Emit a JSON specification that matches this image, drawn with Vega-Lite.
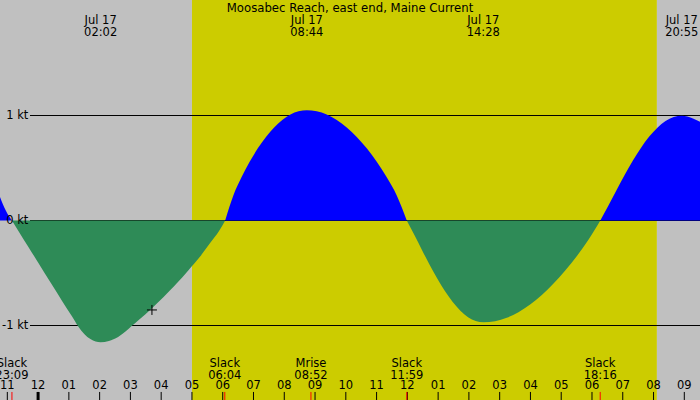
{
  "$schema": "https://vega.github.io/schema/vega-lite/v6.json",
  "width": 700,
  "height": 400,
  "autosize": "none",
  "padding": 0,
  "config": {
    "view": {"stroke": null},
    "font": "DejaVu Sans"
  },
  "datasets": {
    "curve": [
      {"seg": "F0", "dir": "flood", "h": -1.238, "v": 0.225},
      {"seg": "F0", "dir": "flood", "h": -1.05, "v": 0.095},
      {"seg": "F0", "dir": "flood", "h": -0.85, "v": 0},
      {"seg": "E1", "dir": "ebb", "h": -0.85, "v": 0},
      {"seg": "E1", "dir": "ebb", "h": -0.64, "v": -0.099},
      {"seg": "E1", "dir": "ebb", "h": -0.32, "v": -0.249},
      {"seg": "E1", "dir": "ebb", "h": 0.0, "v": -0.4},
      {"seg": "E1", "dir": "ebb", "h": 0.4, "v": -0.588},
      {"seg": "E1", "dir": "ebb", "h": 0.8, "v": -0.775},
      {"seg": "E1", "dir": "ebb", "h": 1.1, "v": -0.912},
      {"seg": "E1", "dir": "ebb", "h": 1.3, "v": -1.007},
      {"seg": "E1", "dir": "ebb", "h": 1.5, "v": -1.08},
      {"seg": "E1", "dir": "ebb", "h": 1.7, "v": -1.129},
      {"seg": "E1", "dir": "ebb", "h": 1.87, "v": -1.153},
      {"seg": "E1", "dir": "ebb", "h": 2.03, "v": -1.16},
      {"seg": "E1", "dir": "ebb", "h": 2.3, "v": -1.148},
      {"seg": "E1", "dir": "ebb", "h": 2.6, "v": -1.11},
      {"seg": "E1", "dir": "ebb", "h": 2.85, "v": -1.055},
      {"seg": "E1", "dir": "ebb", "h": 3.04, "v": -1.005},
      {"seg": "E1", "dir": "ebb", "h": 3.26, "v": -0.95},
      {"seg": "E1", "dir": "ebb", "h": 3.7, "v": -0.835},
      {"seg": "E1", "dir": "ebb", "h": 4.07, "v": -0.73},
      {"seg": "E1", "dir": "ebb", "h": 4.29, "v": -0.665},
      {"seg": "E1", "dir": "ebb", "h": 4.5, "v": -0.6},
      {"seg": "E1", "dir": "ebb", "h": 4.88, "v": -0.475},
      {"seg": "E1", "dir": "ebb", "h": 5.26, "v": -0.345},
      {"seg": "E1", "dir": "ebb", "h": 5.59, "v": -0.215},
      {"seg": "E1", "dir": "ebb", "h": 5.89, "v": -0.095},
      {"seg": "E1", "dir": "ebb", "h": 6.08, "v": 0},
      {"seg": "F1", "dir": "flood", "h": 6.08, "v": 0},
      {"seg": "F1", "dir": "flood", "h": 6.345, "v": 0.238},
      {"seg": "F1", "dir": "flood", "h": 6.61, "v": 0.411},
      {"seg": "F1", "dir": "flood", "h": 6.875, "v": 0.559},
      {"seg": "F1", "dir": "flood", "h": 7.14, "v": 0.687},
      {"seg": "F1", "dir": "flood", "h": 7.405, "v": 0.796},
      {"seg": "F1", "dir": "flood", "h": 7.67, "v": 0.886},
      {"seg": "F1", "dir": "flood", "h": 7.935, "v": 0.958},
      {"seg": "F1", "dir": "flood", "h": 8.2, "v": 1.009},
      {"seg": "F1", "dir": "flood", "h": 8.465, "v": 1.04},
      {"seg": "F1", "dir": "flood", "h": 8.73, "v": 1.05},
      {"seg": "F1", "dir": "flood", "h": 9.055, "v": 1.04},
      {"seg": "F1", "dir": "flood", "h": 9.38, "v": 1.009},
      {"seg": "F1", "dir": "flood", "h": 9.705, "v": 0.958},
      {"seg": "F1", "dir": "flood", "h": 10.03, "v": 0.886},
      {"seg": "F1", "dir": "flood", "h": 10.355, "v": 0.796},
      {"seg": "F1", "dir": "flood", "h": 10.68, "v": 0.687},
      {"seg": "F1", "dir": "flood", "h": 11.005, "v": 0.559},
      {"seg": "F1", "dir": "flood", "h": 11.33, "v": 0.411},
      {"seg": "F1", "dir": "flood", "h": 11.655, "v": 0.238},
      {"seg": "F1", "dir": "flood", "h": 11.98, "v": 0},
      {"seg": "E2", "dir": "ebb", "h": 11.98, "v": 0},
      {"seg": "E2", "dir": "ebb", "h": 12.229, "v": -0.138},
      {"seg": "E2", "dir": "ebb", "h": 12.478, "v": -0.283},
      {"seg": "E2", "dir": "ebb", "h": 12.727, "v": -0.423},
      {"seg": "E2", "dir": "ebb", "h": 12.976, "v": -0.555},
      {"seg": "E2", "dir": "ebb", "h": 13.225, "v": -0.674},
      {"seg": "E2", "dir": "ebb", "h": 13.474, "v": -0.776},
      {"seg": "E2", "dir": "ebb", "h": 13.723, "v": -0.859},
      {"seg": "E2", "dir": "ebb", "h": 13.972, "v": -0.921},
      {"seg": "E2", "dir": "ebb", "h": 14.221, "v": -0.957},
      {"seg": "E2", "dir": "ebb", "h": 14.47, "v": -0.97},
      {"seg": "E2", "dir": "ebb", "h": 14.85, "v": -0.959},
      {"seg": "E2", "dir": "ebb", "h": 15.23, "v": -0.927},
      {"seg": "E2", "dir": "ebb", "h": 15.61, "v": -0.874},
      {"seg": "E2", "dir": "ebb", "h": 15.99, "v": -0.801},
      {"seg": "E2", "dir": "ebb", "h": 16.37, "v": -0.71},
      {"seg": "E2", "dir": "ebb", "h": 16.75, "v": -0.601},
      {"seg": "E2", "dir": "ebb", "h": 17.13, "v": -0.476},
      {"seg": "E2", "dir": "ebb", "h": 17.51, "v": -0.338},
      {"seg": "E2", "dir": "ebb", "h": 17.89, "v": -0.182},
      {"seg": "E2", "dir": "ebb", "h": 18.27, "v": 0},
      {"seg": "F2", "dir": "flood", "h": 18.27, "v": 0},
      {"seg": "F2", "dir": "flood", "h": 18.535, "v": 0.142},
      {"seg": "F2", "dir": "flood", "h": 18.8, "v": 0.291},
      {"seg": "F2", "dir": "flood", "h": 19.065, "v": 0.436},
      {"seg": "F2", "dir": "flood", "h": 19.33, "v": 0.572},
      {"seg": "F2", "dir": "flood", "h": 19.595, "v": 0.694},
      {"seg": "F2", "dir": "flood", "h": 19.86, "v": 0.799},
      {"seg": "F2", "dir": "flood", "h": 20.125, "v": 0.884},
      {"seg": "F2", "dir": "flood", "h": 20.39, "v": 0.947},
      {"seg": "F2", "dir": "flood", "h": 20.655, "v": 0.985},
      {"seg": "F2", "dir": "flood", "h": 20.92, "v": 0.998},
      {"seg": "F2", "dir": "flood", "h": 21.1, "v": 0.99},
      {"seg": "F2", "dir": "flood", "h": 21.3, "v": 0.968},
      {"seg": "F2", "dir": "flood", "h": 21.51, "v": 0.94}
    ],
    "periods": [
      {"h": -1.238, "h2": 5.0, "period": "night"},
      {"h": 5.0, "h2": 20.11, "period": "day"},
      {"h": 20.11, "h2": 21.51, "period": "night"}
    ],
    "levels": [
      {"v": 1, "label": "1 kt"},
      {"v": 0, "label": "0 kt"},
      {"v": -1, "label": "-1 kt"}
    ],
    "peaks": [
      {"h": 2.033, "label": "Jul 17\n02:02"},
      {"h": 8.733, "label": "Jul 17\n08:44"},
      {"h": 14.467, "label": "Jul 17\n14:28"},
      {"h": 20.917, "label": "Jul 17\n20:55"}
    ],
    "events": [
      {"h": -0.85, "label": "Slack\n23:09"},
      {"h": 6.067, "label": "Slack\n06:04"},
      {"h": 8.867, "label": "Mrise\n08:52"},
      {"h": 11.983, "label": "Slack\n11:59"},
      {"h": 18.267, "label": "Slack\n18:16"}
    ],
    "hours": [
      {"h": -1, "label": "11"}, {"h": 0, "label": "12"}, {"h": 1, "label": "01"},
      {"h": 2, "label": "02"}, {"h": 3, "label": "03"}, {"h": 4, "label": "04"},
      {"h": 5, "label": "05"}, {"h": 6, "label": "06"}, {"h": 7, "label": "07"},
      {"h": 8, "label": "08"}, {"h": 9, "label": "09"}, {"h": 10, "label": "10"},
      {"h": 11, "label": "11"}, {"h": 12, "label": "12"}, {"h": 13, "label": "01"},
      {"h": 14, "label": "02"}, {"h": 15, "label": "03"}, {"h": 16, "label": "04"},
      {"h": 17, "label": "05"}, {"h": 18, "label": "06"}, {"h": 19, "label": "07"},
      {"h": 20, "label": "08"}, {"h": 21, "label": "09"}
    ],
    "midnight": [{"h": 0}],
    "now": [{"h": 3.7, "v": -0.852}]
  },
  "layer": [
    {
      "data": {"name": "periods"},
      "mark": {"type": "rect"},
      "encoding": {
        "x": {
          "field": "h",
          "type": "quantitative",
          "scale": {"domain": [-1.238, 21.51], "nice": false, "zero": false},
          "axis": null
        },
        "x2": {"field": "h2"},
        "color": {
          "field": "period",
          "type": "nominal",
          "scale": {"domain": ["day", "night"], "range": ["#cccc00", "#c0c0c0"]},
          "legend": null
        }
      }
    },
    {
      "data": {"name": "levels"},
      "mark": {"type": "rule", "color": "#000000", "strokeWidth": 1},
      "encoding": {
        "x": {"datum": -0.263, "type": "quantitative", "axis": null},
        "x2": {"datum": 21.51},
        "y": {"field": "v", "type": "quantitative", "scale": {"domain": [-1.7095, 2.1], "nice": false, "zero": false}, "axis": null}
      }
    },
    {
      "data": {"name": "curve"},
      "transform": [{"filter": "datum.dir == 'flood'"}],
      "mark": {"type": "area", "color": "#0000ff", "interpolate": "monotone"},
      "encoding": {
        "x": {"field": "h", "type": "quantitative", "axis": null},
        "y": {"field": "v", "type": "quantitative", "axis": null},
        "y2": {"datum": 0},
        "detail": {"field": "seg", "type": "nominal"}
      }
    },
    {
      "data": {"name": "curve"},
      "transform": [{"filter": "datum.dir == 'ebb'"}],
      "mark": {"type": "area", "color": "#2e8b57", "interpolate": "monotone"},
      "encoding": {
        "x": {"field": "h", "type": "quantitative", "axis": null},
        "y": {"field": "v", "type": "quantitative", "axis": null},
        "y2": {"datum": 0},
        "detail": {"field": "seg", "type": "nominal"}
      }
    },
    {
      "data": {"name": "levels"},
      "mark": {"type": "text", "align": "right", "baseline": "middle", "font": "DejaVu Sans", "fontSize": 11.5, "color": "#000000"},
      "encoding": {
        "x": {"datum": -0.318, "type": "quantitative", "axis": null},
        "y": {"field": "v", "type": "quantitative", "axis": null},
        "text": {"field": "label"}
      }
    },
    {
      "data": {"name": "peaks"},
      "mark": {"type": "text", "align": "center", "baseline": "alphabetic", "lineBreak": "\n", "lineHeight": 12.7, "font": "DejaVu Sans", "fontSize": 11.5, "color": "#000000"},
      "encoding": {
        "x": {"field": "h", "type": "quantitative", "axis": null},
        "y": {"datum": 1.876, "type": "quantitative", "axis": null},
        "text": {"field": "label"}
      }
    },
    {
      "data": {"values": [{"h": 10.137, "label": "Moosabec Reach, east end, Maine Current"}]},
      "mark": {"type": "text", "align": "center", "baseline": "alphabetic", "font": "DejaVu Sans", "fontSize": 11.7, "color": "#000000"},
      "encoding": {
        "x": {"field": "h", "type": "quantitative", "axis": null},
        "y": {"datum": 1.99, "type": "quantitative", "axis": null},
        "text": {"field": "label"}
      }
    },
    {
      "data": {"name": "events"},
      "mark": {"type": "text", "align": "center", "baseline": "alphabetic", "lineBreak": "\n", "lineHeight": 11.6, "font": "DejaVu Sans", "fontSize": 11.5, "color": "#000000"},
      "encoding": {
        "x": {"field": "h", "type": "quantitative", "axis": null},
        "y": {"datum": -1.395, "type": "quantitative", "axis": null},
        "text": {"field": "label"}
      }
    },
    {
      "data": {"name": "hours"},
      "mark": {"type": "text", "align": "center", "baseline": "alphabetic", "font": "DejaVu Sans", "fontSize": 11.5, "color": "#000000"},
      "encoding": {
        "x": {"field": "h", "type": "quantitative", "axis": null},
        "y": {"datum": -1.608, "type": "quantitative", "axis": null},
        "text": {"field": "label"}
      }
    },
    {
      "data": {"name": "hours"},
      "mark": {"type": "rule", "color": "#000000", "strokeWidth": 1},
      "encoding": {
        "x": {"field": "h", "type": "quantitative", "axis": null},
        "y": {"datum": -1.633, "type": "quantitative", "axis": null},
        "y2": {"datum": -1.7095}
      }
    },
    {
      "data": {"name": "midnight"},
      "mark": {"type": "rule", "color": "#000000", "strokeWidth": 3},
      "encoding": {
        "x": {"field": "h", "type": "quantitative", "axis": null},
        "y": {"datum": -1.633, "type": "quantitative", "axis": null},
        "y2": {"datum": -1.7095}
      }
    },
    {
      "data": {"name": "events"},
      "mark": {"type": "rule", "color": "#ff0000", "strokeWidth": 1},
      "encoding": {
        "x": {"field": "h", "type": "quantitative", "axis": null},
        "y": {"datum": -1.633, "type": "quantitative", "axis": null},
        "y2": {"datum": -1.7095}
      }
    },
    {
      "data": {"name": "now"},
      "mark": {"type": "point", "shape": "M-1,0H1M0,-1V1", "size": 100, "filled": false, "color": "#000000", "strokeWidth": 1, "opacity": 1},
      "encoding": {
        "x": {"field": "h", "type": "quantitative", "axis": null},
        "y": {"field": "v", "type": "quantitative", "axis": null}
      }
    }
  ]
}
